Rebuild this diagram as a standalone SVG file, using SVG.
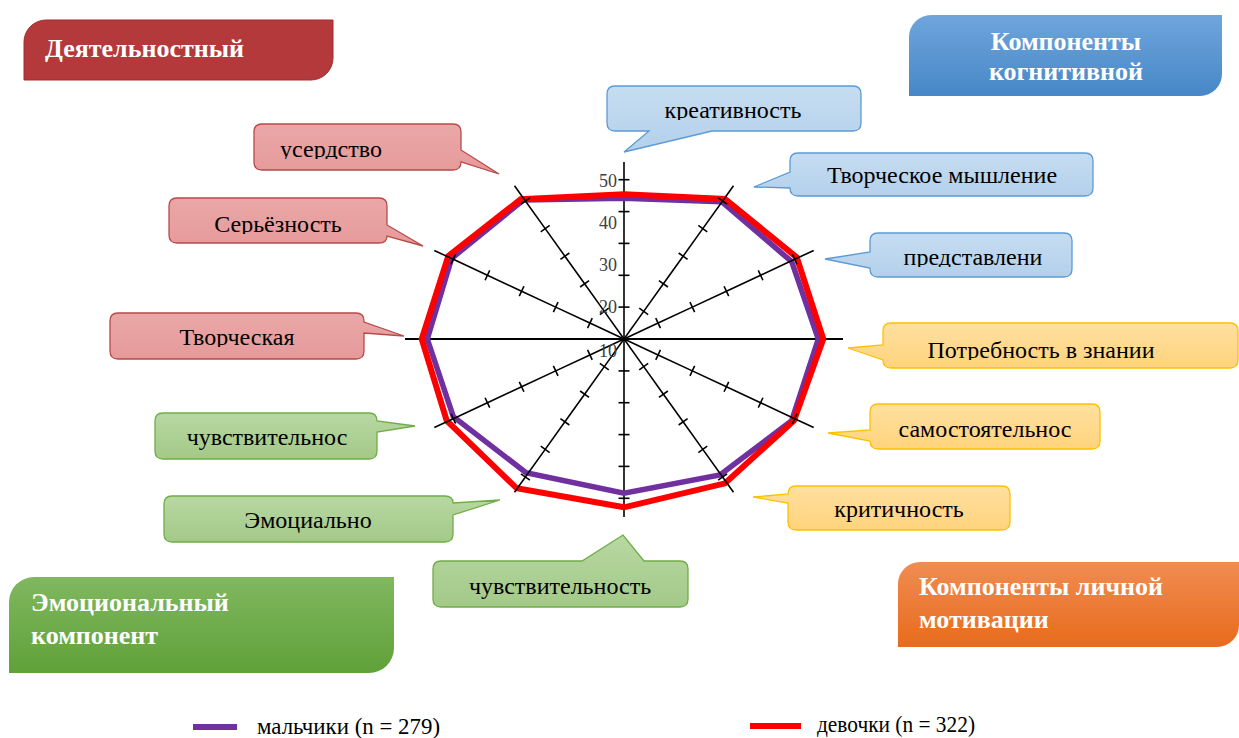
<svg xmlns="http://www.w3.org/2000/svg" width="1239" height="738" viewBox="0 0 1239 738">
<style>
.ttl{font-family:"Liberation Serif","Times New Roman",serif;font-weight:bold;font-size:26px;fill:#fff}
.cl{font-family:"Liberation Serif","Times New Roman",serif;font-size:24px;fill:#000;text-anchor:middle}
.ax{font-family:"Liberation Serif","Times New Roman",serif;font-size:18px;fill:#404040;text-anchor:end}
.lg{font-family:"Liberation Serif","Times New Roman",serif;font-size:24px;fill:#000}
.pink{fill:url(#gPink);stroke:#B84A4A;stroke-width:1.3}
.blue{fill:url(#gBlue);stroke:#5B9BD5;stroke-width:1.3}
.yel{fill:url(#gYel);stroke:#FFC000;stroke-width:1.3}
.grn{fill:url(#gGrn);stroke:#70AD47;stroke-width:1.3}
.axis{stroke:#000;stroke-width:1.8;fill:none}
.spoke{stroke:#000;stroke-width:1.6;fill:none;marker-mid:url(#tick)}
</style>
<defs>
<linearGradient id="gPink" x1="0" y1="0" x2="0" y2="1"><stop offset="0" stop-color="#EAA7A7"/><stop offset="1" stop-color="#E69A9A"/></linearGradient>
<linearGradient id="gBlue" x1="0" y1="0" x2="0" y2="1"><stop offset="0" stop-color="#C6DDF1"/><stop offset="1" stop-color="#B3D0EB"/></linearGradient>
<linearGradient id="gYel" x1="0" y1="0" x2="0" y2="1"><stop offset="0" stop-color="#FFE0A0"/><stop offset="1" stop-color="#FFD37C"/></linearGradient>
<linearGradient id="gGrn" x1="0" y1="0" x2="0" y2="1"><stop offset="0" stop-color="#B8D8A3"/><stop offset="1" stop-color="#A3C988"/></linearGradient>
<linearGradient id="tBlue" x1="0" y1="0" x2="0" y2="1"><stop offset="0" stop-color="#6FA5DC"/><stop offset="1" stop-color="#4787C7"/></linearGradient>
<linearGradient id="tGrn" x1="0" y1="0" x2="0" y2="1"><stop offset="0" stop-color="#80B760"/><stop offset="1" stop-color="#60A138"/></linearGradient>
<linearGradient id="tOr" x1="0" y1="0" x2="0" y2="1"><stop offset="0" stop-color="#F08C52"/><stop offset="1" stop-color="#E86B1C"/></linearGradient>
<marker id="tick" markerUnits="userSpaceOnUse" markerWidth="14" markerHeight="14" refX="7" refY="7" orient="auto" overflow="visible"><line x1="7" y1="1.5" x2="7" y2="12.5" stroke="#000" stroke-width="1.6"/></marker>
<clipPath id="c1"><rect x="0" y="0" width="1239" height="159"/></clipPath>
<clipPath id="c2"><rect x="0" y="0" width="1239" height="234"/></clipPath>
<clipPath id="c3"><rect x="0" y="0" width="1239" height="347"/></clipPath>
<clipPath id="c4"><rect x="0" y="0" width="1239" height="120"/></clipPath>
<clipPath id="c5"><rect x="0" y="0" width="1239" height="267"/></clipPath>
<clipPath id="c6"><rect x="0" y="0" width="1239" height="360"/></clipPath>
</defs>
<rect width="1239" height="738" fill="#fff"/>

<!-- Title boxes -->
<g id="t-deyat">
<path d="M46 20 H333 V58 A22 22 0 0 1 311 80 H24 V42 A22 22 0 0 1 46 20 Z" fill="#B3393B" stroke="#A82A2C" stroke-width="1"/>
<text class="ttl" x="45" y="57">Деятельностный</text>
</g>
<g id="t-kogn">
<path d="M931 15 H1222 V74 A22 22 0 0 1 1200 96 H909 V37 A22 22 0 0 1 931 15 Z" fill="url(#tBlue)"/>
<text class="ttl" x="1066" y="50" text-anchor="middle">Компоненты</text>
<text class="ttl" x="1066" y="80" text-anchor="middle">когнитивной</text>
</g>
<g id="t-emo">
<path d="M34 577 H394 V648 A25 25 0 0 1 369 673 H9 V602 A25 25 0 0 1 34 577 Z" fill="url(#tGrn)"/>
<text class="ttl" x="31" y="611">Эмоциональный</text>
<text class="ttl" x="31" y="644">компонент</text>
</g>
<g id="t-motiv">
<path d="M920 562 H1239 V625 A22 22 0 0 1 1217 647 H898 V584 A22 22 0 0 1 920 562 Z" fill="url(#tOr)"/>
<text class="ttl" x="919" y="595">Компоненты личной</text>
<text class="ttl" x="919" y="628">мотивации</text>
</g>

<!-- Radar chart -->
<g id="chart">
<line class="axis" x1="405" y1="339" x2="843" y2="339"/>
<polyline class="spoke" stroke-width="2" points="624,339 624,307.1 624,275.3 624,243.4 624,211.6 624,179.7 624,162"/>
<polyline class="spoke" stroke-width="2" points="624,339 624,370.9 624,402.7 624,434.6 624,466.4 624,498.3 624,517"/>
<polygon points="624,198.3 721.7,201.7 791.7,261.7 818.3,339 791.7,420.7 720,475 624,493.3 526,472.7 453.3,416.7 427.3,339 451.7,258.3 523.3,200" fill="none" stroke="#7030A0" stroke-width="5.5"/>
<polygon points="624,194.3 725,199 796.7,257.3 823.3,339 794,420.5 725,483.3 624,507.3 516.7,488.3 446.7,420.7 421.7,339 448.3,256 520.7,199.3" fill="none" stroke="#FF0000" stroke-width="6"/>
<polyline class="spoke" points="624,339 658.1,323.1 692.3,307.1 726.4,291.2 760.6,275.3 794.7,259.3 813.7,250.5"/>
<polyline class="spoke" points="624,339 643.7,311.4 663.4,283.8 683.1,256.2 702.8,228.6 722.6,201.0 733.5,185.7"/>
<polyline class="spoke" points="624,339 604.3,311.4 584.6,283.8 564.9,256.2 545.2,228.6 525.4,201.0 514.5,185.7"/>
<polyline class="spoke" points="624,339 589.9,323.1 555.7,307.1 521.6,291.2 487.4,275.3 453.3,259.3 434.3,250.5"/>
<polyline class="spoke" points="624,339 589.9,354.9 555.7,370.9 521.6,386.8 487.4,402.7 453.3,418.7 434.3,427.5"/>
<polyline class="spoke" points="624,339 604.3,366.6 584.6,394.2 564.9,421.8 545.2,449.4 525.4,477.0 514.5,492.3"/>
<polyline class="spoke" points="624,339 643.7,366.6 663.4,394.2 683.1,421.8 702.8,449.4 722.6,477.0 733.5,492.3"/>
<polyline class="spoke" points="624,339 658.1,354.9 692.3,370.9 726.4,386.8 760.6,402.7 794.7,418.7 813.7,427.5"/>
<text class="ax" x="617" y="187">50</text>
<text class="ax" x="617" y="228.5">40</text>
<text class="ax" x="617" y="271">30</text>
<text class="ax" x="617" y="313">20</text>
<text class="ax" x="617" y="356.5">10</text>
</g>

<!-- Callouts: Деятельностный -->
<g id="n-userdstvo">
<path class="pink" d="M262 124 H453 Q461 124 461 132 V150 L499 174 L461 162 Q461 170 453 170 H262 Q254 170 254 162 V132 Q254 124 262 124 Z"/>
<text class="cl" x="331" y="157" clip-path="url(#c1)">усердство</text>
</g>
<g id="n-serieznost">
<path class="pink" d="M177 198 H379 Q387 198 387 206 V225 L423 246 L387 236 Q387 243 379 243 H177 Q169 243 169 235 V206 Q169 198 177 198 Z"/>
<text class="cl" x="278" y="232" clip-path="url(#c2)">Серьёзность</text>
</g>
<g id="n-tvorcheskaya">
<path class="pink" d="M118 313 H356 Q364 313 364 321 V322 L404 336 L364 333 V351 Q364 359 356 359 H118 Q110 359 110 351 V321 Q110 313 118 313 Z"/>
<text class="cl" x="237" y="345" clip-path="url(#c3)">Творческая</text>
</g>

<!-- Callouts: когнитивные -->
<g id="n-kreativnost">
<path class="blue" d="M615 86 H853 Q861 86 861 94 V123 Q861 131 853 131 H712 L624 152 L649 131 H615 Q607 131 607 123 V94 Q607 86 615 86 Z"/>
<text class="cl" x="733" y="118" clip-path="url(#c4)">креативность</text>
</g>
<g id="n-myshlenie">
<path class="blue" d="M798 153 H1085 Q1093 153 1093 161 V188 Q1093 196 1085 196 H798 Q790 196 790 188 L754 187 L790 172 V161 Q790 153 798 153 Z"/>
<text class="cl" x="942" y="183">Творческое мышление</text>
</g>
<g id="n-predstavleni">
<path class="blue" d="M878 233 H1064 Q1072 233 1072 241 V269 Q1072 277 1064 277 H878 Q870 277 870 269 V268 L825 259 L870 252 V241 Q870 233 878 233 Z"/>
<text class="cl" x="973" y="265" clip-path="url(#c5)">представлени</text>
</g>

<!-- Callouts: мотивация -->
<g id="n-potrebnost">
<path class="yel" d="M891 323 H1230 Q1238 323 1238 331 V360 Q1238 368 1230 368 H891 Q883 368 883 360 L848 348 L883 345 V331 Q883 323 891 323 Z"/>
<text class="cl" x="1041" y="358" font-size="27" clip-path="url(#c6)">Потребность в знании</text>
</g>
<g id="n-samostoyat">
<path class="yel" d="M878 404 H1092 Q1100 404 1100 412 V441 Q1100 449 1092 449 H878 Q870 449 870 441 L828 433 L870 430 V412 Q870 404 878 404 Z"/>
<text class="cl" x="985" y="437">самостоятельнос</text>
</g>
<g id="n-kritichnost">
<path class="yel" d="M796 486 H1002 Q1010 486 1010 494 V522 Q1010 530 1002 530 H796 Q788 530 788 522 V503 L753 497 L788 494 Q788 486 796 486 Z"/>
<text class="cl" x="899" y="517">критичность</text>
</g>

<!-- Callouts: эмоциональные -->
<g id="n-chuvstv1">
<path class="grn" d="M163 413 H369 Q377 413 377 421 L415 426 L377 432 V451 Q377 459 369 459 H163 Q155 459 155 451 V421 Q155 413 163 413 Z"/>
<text class="cl" x="267" y="445">чувствительнос</text>
</g>
<g id="n-emocialno">
<path class="grn" d="M172 496 H445 Q453 496 453 503 L500 500 L453 515 V534 Q453 542 445 542 H172 Q164 542 164 534 V504 Q164 496 172 496 Z"/>
<text class="cl" x="308" y="528">Эмоциально</text>
</g>
<g id="n-chuvstv2">
<path class="grn" d="M441 561 H582 L623 535 L644 561 H680 Q688 561 688 569 V599 Q688 607 680 607 H441 Q433 607 433 599 V569 Q433 561 441 561 Z"/>
<text class="cl" x="560" y="594">чувствительность</text>
</g>

<!-- Legend -->
<g id="legend">
<line x1="193" y1="727" x2="237" y2="727" stroke="#7030A0" stroke-width="6"/>
<text class="lg" x="257" y="734" textLength="183" lengthAdjust="spacingAndGlyphs">мальчики (n = 279)</text>
<line x1="750" y1="726" x2="801" y2="726" stroke="#FF0000" stroke-width="6"/>
<text class="lg" x="817" y="732" textLength="158" lengthAdjust="spacingAndGlyphs">девочки (n = 322)</text>
</g>
</svg>
